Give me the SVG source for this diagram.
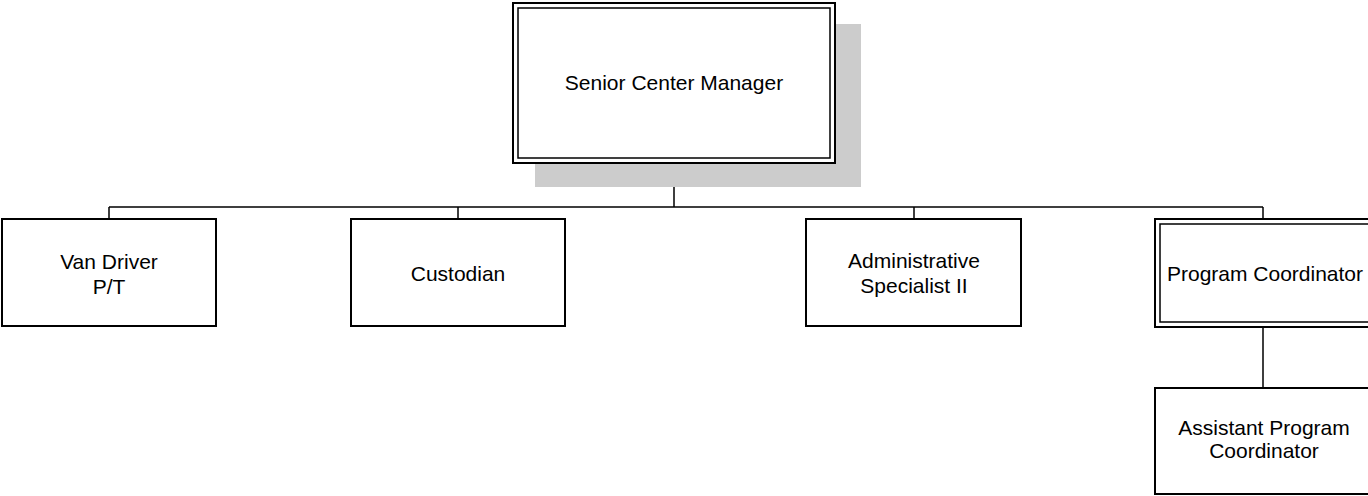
<svg xmlns="http://www.w3.org/2000/svg" width="1368" height="496" viewBox="0 0 1368 496">
<style>
.box{fill:#fff;stroke:#000;stroke-width:2}
.inner{fill:none;stroke:#000;stroke-width:1.5}
.conn{fill:none;stroke:#000;stroke-width:1.5}
text{font-family:"Liberation Sans",Arial,sans-serif;font-size:21px;fill:#000;text-anchor:middle}
</style>
<rect width="1368" height="496" fill="#fff"/>
<g id="connectors">
<path class="conn" d="M674,163 V207 M109,207 H1263 M109,207 V219 M458,207 V219 M914,207 V219 M1263,207 V219 M1263,327 V388"/>
</g>
<g id="senior-center-manager">
<rect x="535" y="24" width="326" height="163" fill="#cccccc"/>
<rect class="box" x="513" y="3" width="322" height="160"/>
<rect class="inner" x="518" y="8" width="312" height="150"/>
<text x="674" y="90">Senior Center Manager</text>
</g>
<g id="van-driver">
<rect class="box" x="2" y="219" width="214" height="107"/>
<text x="109" y="269">Van Driver</text>
<text x="109" y="294">P/T</text>
</g>
<g id="custodian">
<rect class="box" x="351" y="219" width="214" height="107"/>
<text x="458" y="281">Custodian</text>
</g>
<g id="administrative-specialist">
<rect class="box" x="806" y="219" width="215" height="107"/>
<text x="914" y="268">Administrative</text>
<text x="914" y="293">Specialist II</text>
</g>
<g id="program-coordinator">
<rect class="box" x="1155" y="219" width="222" height="108"/>
<rect class="inner" x="1160" y="224" width="212" height="98"/>
<text x="1265" y="281">Program Coordinator</text>
</g>
<g id="assistant-program-coordinator">
<rect class="box" x="1155" y="388" width="222" height="106"/>
<text x="1264" y="435">Assistant Program</text>
<text x="1264" y="458">Coordinator</text>
</g>
</svg>
